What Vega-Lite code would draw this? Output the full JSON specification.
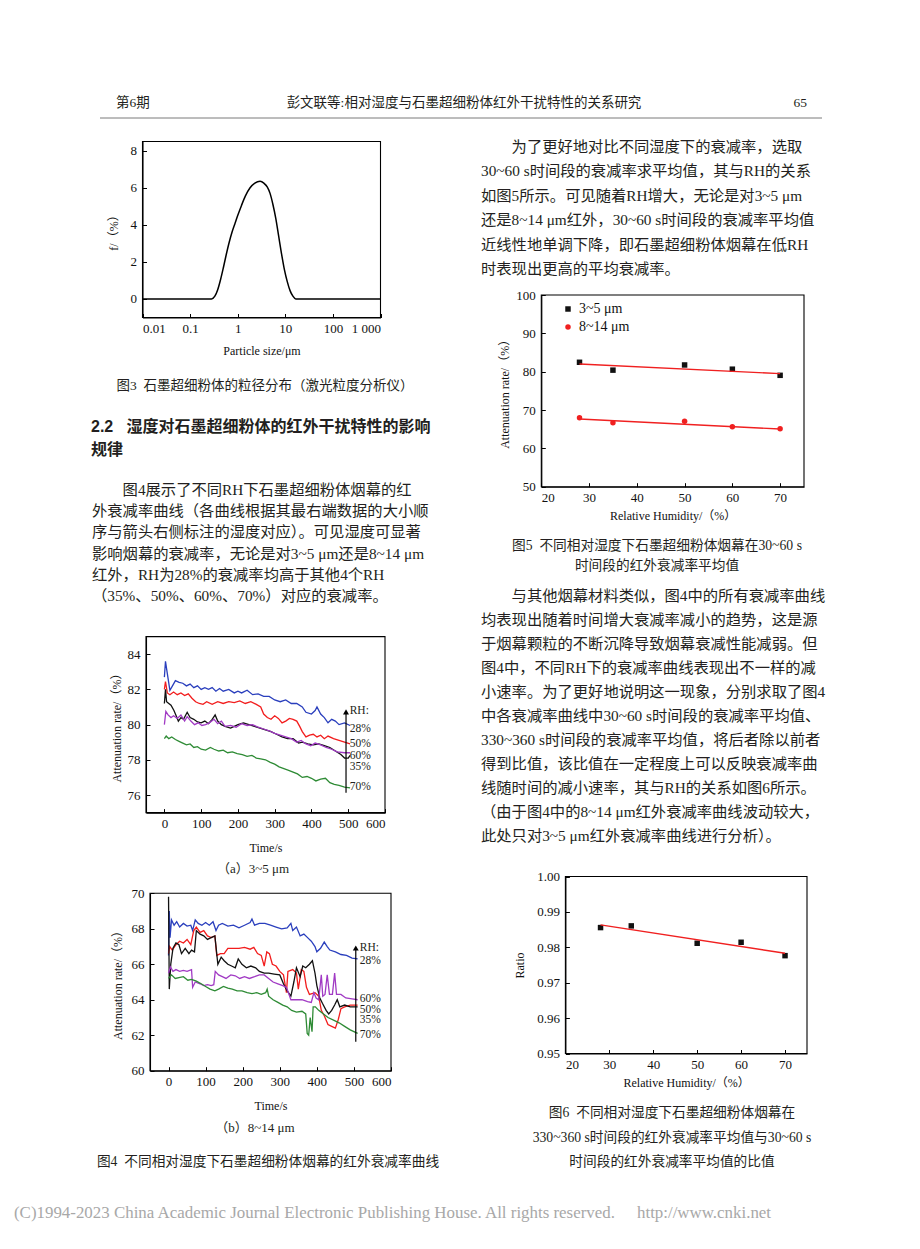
{
"$schema": "https://vega.github.io/schema/vega-lite/v6.json",
"width": 920, "height": 1249, "padding": 0, "autosize": {"type": "none"},
"background": "white",
"config": {
  "view": {"stroke": null},
  "axis": {"grid": false, "domainColor": "#000", "domainWidth": 1.1, "tickColor": "#000", "tickSize": -4, "labelPadding": 6, "labelColor": "#111", "titleColor": "#111", "labelFont": "Liberation Serif", "titleFont": "Liberation Serif, Noto Sans CJK SC", "labelFontSize": 13, "titleFontSize": 12, "titleFontWeight": "normal", "labelOverlap": false},
  "text": {"font": "Liberation Serif, Noto Sans CJK SC", "color": "#231f20"}
},
"resolve": {"scale": {"x": "independent", "y": "independent", "color": "independent", "shape": "independent"}, "axis": {"x": "independent", "y": "independent"}, "legend": {"color": "independent", "shape": "independent"}},
"datasets": {
  "fig3": [
    {"size":0.01,"f":0},{"size":0.282,"f":0},{"size":0.331,"f":0.15},{"size":0.38,"f":0.5},{"size":0.437,"f":1.05},{"size":0.501,"f":1.7},{"size":0.575,"f":2.4},{"size":0.661,"f":3.05},{"size":0.759,"f":3.6},{"size":0.871,"f":4.05},{"size":1.0,"f":4.5},{"size":1.202,"f":5.05},{"size":1.445,"f":5.55},{"size":1.82,"f":6.0},{"size":2.291,"f":6.25},{"size":2.951,"f":6.35},{"size":3.548,"f":6.25},{"size":4.169,"f":6.05},{"size":4.786,"f":5.7},{"size":5.495,"f":5.1},{"size":6.31,"f":4.35},{"size":7.244,"f":3.4},{"size":8.318,"f":2.45},{"size":9.55,"f":1.6},{"size":10.96,"f":0.95},{"size":12.59,"f":0.45},{"size":14.45,"f":0.15},{"size":16.6,"f":0},{"size":1000,"f":0}
  ],
  "fig4a": [
    {"t":0,"v":82.7,"rh":"28%"},{"t":3,"v":83.6,"rh":"28%"},{"t":8,"v":82.9,"rh":"28%"},{"t":15,"v":81.95,"rh":"28%"},{"t":22,"v":82.2,"rh":"28%"},{"t":30,"v":82.5,"rh":"28%"},{"t":40,"v":82.4,"rh":"28%"},{"t":50,"v":82.35,"rh":"28%"},{"t":60,"v":82.2,"rh":"28%"},{"t":70,"v":82.3,"rh":"28%"},{"t":80,"v":82.1,"rh":"28%"},{"t":90,"v":82.2,"rh":"28%"},{"t":100,"v":82.0,"rh":"28%"},{"t":110,"v":82.1,"rh":"28%"},{"t":120,"v":82.0,"rh":"28%"},{"t":130,"v":82.1,"rh":"28%"},{"t":140,"v":81.9,"rh":"28%"},{"t":150,"v":82.05,"rh":"28%"},{"t":160,"v":81.9,"rh":"28%"},{"t":175,"v":82.0,"rh":"28%"},{"t":190,"v":81.8,"rh":"28%"},{"t":200,"v":81.9,"rh":"28%"},{"t":210,"v":81.8,"rh":"28%"},{"t":225,"v":81.95,"rh":"28%"},{"t":240,"v":81.7,"rh":"28%"},{"t":255,"v":81.75,"rh":"28%"},{"t":270,"v":81.6,"rh":"28%"},{"t":285,"v":81.6,"rh":"28%"},{"t":300,"v":81.4,"rh":"28%"},{"t":315,"v":81.3,"rh":"28%"},{"t":330,"v":81.4,"rh":"28%"},{"t":345,"v":81.2,"rh":"28%"},{"t":360,"v":81.2,"rh":"28%"},{"t":375,"v":81.0,"rh":"28%"},{"t":385,"v":80.7,"rh":"28%"},{"t":400,"v":80.6,"rh":"28%"},{"t":410,"v":80.8,"rh":"28%"},{"t":415,"v":81.0,"rh":"28%"},{"t":425,"v":80.6,"rh":"28%"},{"t":435,"v":80.4,"rh":"28%"},{"t":445,"v":80.1,"rh":"28%"},{"t":455,"v":80.3,"rh":"28%"},{"t":465,"v":80.2,"rh":"28%"},{"t":475,"v":80.0,"rh":"28%"},{"t":490,"v":80.1,"rh":"28%"},{"t":505,"v":79.95,"rh":"28%"},
    {"t":0,"v":82.0,"rh":"50%"},{"t":3,"v":82.45,"rh":"50%"},{"t":8,"v":81.8,"rh":"50%"},{"t":15,"v":81.7,"rh":"50%"},{"t":25,"v":81.85,"rh":"50%"},{"t":35,"v":81.7,"rh":"50%"},{"t":45,"v":81.8,"rh":"50%"},{"t":55,"v":81.65,"rh":"50%"},{"t":65,"v":81.75,"rh":"50%"},{"t":75,"v":81.5,"rh":"50%"},{"t":85,"v":81.3,"rh":"50%"},{"t":95,"v":81.2,"rh":"50%"},{"t":105,"v":81.15,"rh":"50%"},{"t":115,"v":81.3,"rh":"50%"},{"t":130,"v":81.15,"rh":"50%"},{"t":145,"v":81.3,"rh":"50%"},{"t":160,"v":81.2,"rh":"50%"},{"t":175,"v":81.3,"rh":"50%"},{"t":190,"v":81.25,"rh":"50%"},{"t":205,"v":81.35,"rh":"50%"},{"t":220,"v":81.2,"rh":"50%"},{"t":235,"v":81.3,"rh":"50%"},{"t":250,"v":81.15,"rh":"50%"},{"t":262,"v":81.0,"rh":"50%"},{"t":270,"v":80.6,"rh":"50%"},{"t":280,"v":80.4,"rh":"50%"},{"t":290,"v":80.3,"rh":"50%"},{"t":300,"v":80.5,"rh":"50%"},{"t":310,"v":80.35,"rh":"50%"},{"t":320,"v":80.1,"rh":"50%"},{"t":330,"v":80.2,"rh":"50%"},{"t":340,"v":80.35,"rh":"50%"},{"t":350,"v":80.3,"rh":"50%"},{"t":360,"v":80.2,"rh":"50%"},{"t":368,"v":79.9,"rh":"50%"},{"t":375,"v":79.6,"rh":"50%"},{"t":385,"v":79.3,"rh":"50%"},{"t":395,"v":79.4,"rh":"50%"},{"t":405,"v":79.45,"rh":"50%"},{"t":415,"v":79.3,"rh":"50%"},{"t":425,"v":79.4,"rh":"50%"},{"t":435,"v":79.2,"rh":"50%"},{"t":445,"v":79.35,"rh":"50%"},{"t":460,"v":79.2,"rh":"50%"},{"t":475,"v":79.1,"rh":"50%"},{"t":490,"v":79.0,"rh":"50%"},{"t":505,"v":78.9,"rh":"50%"},
    {"t":0,"v":81.2,"rh":"35%"},{"t":3,"v":82.0,"rh":"35%"},{"t":6,"v":81.3,"rh":"35%"},{"t":12,"v":81.2,"rh":"35%"},{"t":18,"v":81.1,"rh":"35%"},{"t":26,"v":80.8,"rh":"35%"},{"t":32,"v":80.5,"rh":"35%"},{"t":38,"v":80.2,"rh":"35%"},{"t":45,"v":80.4,"rh":"35%"},{"t":52,"v":80.3,"rh":"35%"},{"t":62,"v":80.7,"rh":"35%"},{"t":70,"v":80.4,"rh":"35%"},{"t":80,"v":80.3,"rh":"35%"},{"t":90,"v":80.15,"rh":"35%"},{"t":100,"v":80.1,"rh":"35%"},{"t":110,"v":80.2,"rh":"35%"},{"t":120,"v":80.05,"rh":"35%"},{"t":130,"v":80.3,"rh":"35%"},{"t":138,"v":80.55,"rh":"35%"},{"t":145,"v":80.2,"rh":"35%"},{"t":155,"v":80.0,"rh":"35%"},{"t":165,"v":79.9,"rh":"35%"},{"t":180,"v":79.8,"rh":"35%"},{"t":190,"v":79.9,"rh":"35%"},{"t":200,"v":80.0,"rh":"35%"},{"t":215,"v":80.1,"rh":"35%"},{"t":230,"v":80.0,"rh":"35%"},{"t":245,"v":79.9,"rh":"35%"},{"t":260,"v":79.8,"rh":"35%"},{"t":275,"v":79.7,"rh":"35%"},{"t":290,"v":79.6,"rh":"35%"},{"t":305,"v":79.45,"rh":"35%"},{"t":320,"v":79.3,"rh":"35%"},{"t":335,"v":79.2,"rh":"35%"},{"t":350,"v":79.2,"rh":"35%"},{"t":365,"v":78.95,"rh":"35%"},{"t":375,"v":79.0,"rh":"35%"},{"t":390,"v":78.9,"rh":"35%"},{"t":405,"v":78.85,"rh":"35%"},{"t":420,"v":78.9,"rh":"35%"},{"t":435,"v":78.8,"rh":"35%"},{"t":450,"v":78.7,"rh":"35%"},{"t":465,"v":78.5,"rh":"35%"},{"t":480,"v":78.3,"rh":"35%"},{"t":490,"v":78.1,"rh":"35%"},{"t":500,"v":78.1,"rh":"35%"},{"t":505,"v":78.25,"rh":"35%"},
    {"t":0,"v":80.0,"rh":"60%"},{"t":4,"v":80.75,"rh":"60%"},{"t":10,"v":80.55,"rh":"60%"},{"t":18,"v":80.4,"rh":"60%"},{"t":25,"v":80.5,"rh":"60%"},{"t":35,"v":80.35,"rh":"60%"},{"t":45,"v":80.55,"rh":"60%"},{"t":55,"v":80.2,"rh":"60%"},{"t":62,"v":80.45,"rh":"60%"},{"t":72,"v":80.2,"rh":"60%"},{"t":82,"v":80.0,"rh":"60%"},{"t":92,"v":80.1,"rh":"60%"},{"t":102,"v":79.95,"rh":"60%"},{"t":112,"v":80.0,"rh":"60%"},{"t":122,"v":80.1,"rh":"60%"},{"t":135,"v":80.3,"rh":"60%"},{"t":145,"v":80.05,"rh":"60%"},{"t":155,"v":80.2,"rh":"60%"},{"t":165,"v":79.9,"rh":"60%"},{"t":180,"v":79.95,"rh":"60%"},{"t":195,"v":79.85,"rh":"60%"},{"t":210,"v":80.05,"rh":"60%"},{"t":225,"v":79.95,"rh":"60%"},{"t":240,"v":80.0,"rh":"60%"},{"t":255,"v":79.85,"rh":"60%"},{"t":270,"v":79.75,"rh":"60%"},{"t":285,"v":79.65,"rh":"60%"},{"t":300,"v":79.5,"rh":"60%"},{"t":315,"v":79.4,"rh":"60%"},{"t":330,"v":79.3,"rh":"60%"},{"t":345,"v":79.2,"rh":"60%"},{"t":360,"v":79.0,"rh":"60%"},{"t":372,"v":79.1,"rh":"60%"},{"t":385,"v":78.9,"rh":"60%"},{"t":398,"v":78.8,"rh":"60%"},{"t":410,"v":78.95,"rh":"60%"},{"t":425,"v":78.85,"rh":"60%"},{"t":440,"v":78.7,"rh":"60%"},{"t":455,"v":78.6,"rh":"60%"},{"t":470,"v":78.45,"rh":"60%"},{"t":490,"v":78.4,"rh":"60%"},{"t":505,"v":78.4,"rh":"60%"},
    {"t":0,"v":79.2,"rh":"70%"},{"t":5,"v":79.35,"rh":"70%"},{"t":12,"v":79.2,"rh":"70%"},{"t":20,"v":79.3,"rh":"70%"},{"t":30,"v":79.15,"rh":"70%"},{"t":40,"v":79.05,"rh":"70%"},{"t":50,"v":78.95,"rh":"70%"},{"t":60,"v":78.85,"rh":"70%"},{"t":70,"v":78.9,"rh":"70%"},{"t":80,"v":78.7,"rh":"70%"},{"t":90,"v":78.75,"rh":"70%"},{"t":100,"v":78.6,"rh":"70%"},{"t":112,"v":78.55,"rh":"70%"},{"t":125,"v":78.7,"rh":"70%"},{"t":135,"v":78.6,"rh":"70%"},{"t":148,"v":78.5,"rh":"70%"},{"t":160,"v":78.55,"rh":"70%"},{"t":172,"v":78.4,"rh":"70%"},{"t":185,"v":78.45,"rh":"70%"},{"t":198,"v":78.35,"rh":"70%"},{"t":212,"v":78.3,"rh":"70%"},{"t":225,"v":78.2,"rh":"70%"},{"t":238,"v":78.25,"rh":"70%"},{"t":250,"v":78.1,"rh":"70%"},{"t":262,"v":78.05,"rh":"70%"},{"t":275,"v":78.0,"rh":"70%"},{"t":288,"v":77.85,"rh":"70%"},{"t":300,"v":77.75,"rh":"70%"},{"t":312,"v":77.6,"rh":"70%"},{"t":325,"v":77.5,"rh":"70%"},{"t":338,"v":77.4,"rh":"70%"},{"t":350,"v":77.3,"rh":"70%"},{"t":362,"v":77.2,"rh":"70%"},{"t":375,"v":77.0,"rh":"70%"},{"t":388,"v":77.05,"rh":"70%"},{"t":400,"v":76.95,"rh":"70%"},{"t":412,"v":76.8,"rh":"70%"},{"t":425,"v":76.9,"rh":"70%"},{"t":438,"v":76.95,"rh":"70%"},{"t":450,"v":76.7,"rh":"70%"},{"t":462,"v":76.6,"rh":"70%"},{"t":475,"v":76.55,"rh":"70%"},{"t":490,"v":76.45,"rh":"70%"},{"t":505,"v":76.4,"rh":"70%"}
  ],
  "fig4b": [
    {"t":0,"v":66.5,"rh":"28%"},{"t":2,"v":69.0,"rh":"28%"},{"t":4,"v":67.5,"rh":"28%"},{"t":8,"v":68.5,"rh":"28%"},{"t":15,"v":68.2,"rh":"28%"},{"t":22,"v":68.4,"rh":"28%"},{"t":30,"v":68.1,"rh":"28%"},{"t":40,"v":68.3,"rh":"28%"},{"t":50,"v":68.15,"rh":"28%"},{"t":60,"v":68.2,"rh":"28%"},{"t":65,"v":67.9,"rh":"28%"},{"t":72,"v":68.5,"rh":"28%"},{"t":80,"v":68.3,"rh":"28%"},{"t":90,"v":68.2,"rh":"28%"},{"t":100,"v":68.35,"rh":"28%"},{"t":110,"v":68.2,"rh":"28%"},{"t":120,"v":68.4,"rh":"28%"},{"t":128,"v":67.9,"rh":"28%"},{"t":135,"v":68.2,"rh":"28%"},{"t":145,"v":68.3,"rh":"28%"},{"t":160,"v":68.15,"rh":"28%"},{"t":175,"v":68.2,"rh":"28%"},{"t":190,"v":68.05,"rh":"28%"},{"t":205,"v":68.2,"rh":"28%"},{"t":220,"v":68.35,"rh":"28%"},{"t":225,"v":68.55,"rh":"28%"},{"t":232,"v":68.2,"rh":"28%"},{"t":245,"v":68.3,"rh":"28%"},{"t":260,"v":68.3,"rh":"28%"},{"t":275,"v":68.2,"rh":"28%"},{"t":290,"v":68.1,"rh":"28%"},{"t":305,"v":68.0,"rh":"28%"},{"t":320,"v":68.05,"rh":"28%"},{"t":330,"v":68.3,"rh":"28%"},{"t":335,"v":67.9,"rh":"28%"},{"t":345,"v":68.1,"rh":"28%"},{"t":355,"v":67.6,"rh":"28%"},{"t":365,"v":67.7,"rh":"28%"},{"t":375,"v":67.5,"rh":"28%"},{"t":385,"v":67.3,"rh":"28%"},{"t":395,"v":67.0,"rh":"28%"},{"t":400,"v":66.7,"rh":"28%"},{"t":410,"v":66.9,"rh":"28%"},{"t":420,"v":67.25,"rh":"28%"},{"t":428,"v":67.0,"rh":"28%"},{"t":435,"v":66.8,"rh":"28%"},{"t":450,"v":66.7,"rh":"28%"},{"t":465,"v":66.55,"rh":"28%"},{"t":480,"v":66.5,"rh":"28%"},{"t":495,"v":66.35,"rh":"28%"},{"t":510,"v":66.3,"rh":"28%"},
    {"t":0,"v":66.6,"rh":"50%"},{"t":3,"v":67.0,"rh":"50%"},{"t":10,"v":66.8,"rh":"50%"},{"t":20,"v":67.1,"rh":"50%"},{"t":30,"v":67.3,"rh":"50%"},{"t":40,"v":67.2,"rh":"50%"},{"t":50,"v":67.4,"rh":"50%"},{"t":60,"v":67.1,"rh":"50%"},{"t":68,"v":67.9,"rh":"50%"},{"t":75,"v":68.1,"rh":"50%"},{"t":85,"v":67.8,"rh":"50%"},{"t":95,"v":67.9,"rh":"50%"},{"t":105,"v":67.6,"rh":"50%"},{"t":115,"v":67.5,"rh":"50%"},{"t":125,"v":67.6,"rh":"50%"},{"t":130,"v":66.5,"rh":"50%"},{"t":140,"v":66.6,"rh":"50%"},{"t":150,"v":66.6,"rh":"50%"},{"t":160,"v":66.9,"rh":"50%"},{"t":175,"v":66.9,"rh":"50%"},{"t":190,"v":66.9,"rh":"50%"},{"t":205,"v":66.95,"rh":"50%"},{"t":220,"v":66.85,"rh":"50%"},{"t":230,"v":66.95,"rh":"50%"},{"t":240,"v":66.6,"rh":"50%"},{"t":250,"v":66.5,"rh":"50%"},{"t":258,"v":65.9,"rh":"50%"},{"t":265,"v":66.7,"rh":"50%"},{"t":272,"v":66.6,"rh":"50%"},{"t":280,"v":66.0,"rh":"50%"},{"t":290,"v":65.9,"rh":"50%"},{"t":300,"v":65.6,"rh":"50%"},{"t":310,"v":65.4,"rh":"50%"},{"t":318,"v":64.4,"rh":"50%"},{"t":322,"v":65.6,"rh":"50%"},{"t":335,"v":65.7,"rh":"50%"},{"t":345,"v":65.5,"rh":"50%"},{"t":350,"v":64.6,"rh":"50%"},{"t":358,"v":65.7,"rh":"50%"},{"t":365,"v":65.6,"rh":"50%"},{"t":372,"v":64.7,"rh":"50%"},{"t":380,"v":64.3,"rh":"50%"},{"t":395,"v":64.4,"rh":"50%"},{"t":405,"v":64.2,"rh":"50%"},{"t":412,"v":63.4,"rh":"50%"},{"t":420,"v":63.1,"rh":"50%"},{"t":430,"v":62.6,"rh":"50%"},{"t":440,"v":62.5,"rh":"50%"},{"t":450,"v":62.4,"rh":"50%"},{"t":458,"v":62.9,"rh":"50%"},{"t":465,"v":63.5,"rh":"50%"},{"t":475,"v":63.6,"rh":"50%"},{"t":490,"v":63.7,"rh":"50%"},{"t":510,"v":63.7,"rh":"50%"},
    {"t":0,"v":69.8,"rh":"35%"},{"t":2,"v":64.6,"rh":"35%"},{"t":6,"v":66.0,"rh":"35%"},{"t":12,"v":66.9,"rh":"35%"},{"t":20,"v":67.2,"rh":"35%"},{"t":28,"v":67.1,"rh":"35%"},{"t":35,"v":66.6,"rh":"35%"},{"t":45,"v":66.9,"rh":"35%"},{"t":55,"v":66.6,"rh":"35%"},{"t":62,"v":66.8,"rh":"35%"},{"t":70,"v":66.7,"rh":"35%"},{"t":75,"v":67.9,"rh":"35%"},{"t":85,"v":67.7,"rh":"35%"},{"t":95,"v":67.6,"rh":"35%"},{"t":105,"v":67.4,"rh":"35%"},{"t":115,"v":67.5,"rh":"35%"},{"t":125,"v":67.6,"rh":"35%"},{"t":133,"v":66.0,"rh":"35%"},{"t":142,"v":66.4,"rh":"35%"},{"t":150,"v":66.2,"rh":"35%"},{"t":160,"v":66.0,"rh":"35%"},{"t":170,"v":65.9,"rh":"35%"},{"t":180,"v":65.8,"rh":"35%"},{"t":188,"v":66.3,"rh":"35%"},{"t":198,"v":66.0,"rh":"35%"},{"t":210,"v":65.8,"rh":"35%"},{"t":222,"v":65.9,"rh":"35%"},{"t":235,"v":65.8,"rh":"35%"},{"t":245,"v":65.6,"rh":"35%"},{"t":258,"v":65.5,"rh":"35%"},{"t":270,"v":65.5,"rh":"35%"},{"t":285,"v":65.45,"rh":"35%"},{"t":300,"v":65.4,"rh":"35%"},{"t":310,"v":64.9,"rh":"35%"},{"t":320,"v":64.5,"rh":"35%"},{"t":330,"v":64.2,"rh":"35%"},{"t":338,"v":65.0,"rh":"35%"},{"t":345,"v":65.8,"rh":"35%"},{"t":355,"v":65.3,"rh":"35%"},{"t":362,"v":65.9,"rh":"35%"},{"t":370,"v":65.8,"rh":"35%"},{"t":380,"v":66.0,"rh":"35%"},{"t":388,"v":66.2,"rh":"35%"},{"t":395,"v":65.5,"rh":"35%"},{"t":400,"v":64.8,"rh":"35%"},{"t":408,"v":64.1,"rh":"35%"},{"t":415,"v":63.8,"rh":"35%"},{"t":425,"v":63.4,"rh":"35%"},{"t":432,"v":63.2,"rh":"35%"},{"t":440,"v":63.4,"rh":"35%"},{"t":448,"v":63.7,"rh":"35%"},{"t":455,"v":64.0,"rh":"35%"},{"t":462,"v":63.6,"rh":"35%"},{"t":475,"v":63.7,"rh":"35%"},{"t":490,"v":63.6,"rh":"35%"},{"t":510,"v":63.6,"rh":"35%"},
    {"t":0,"v":65.5,"rh":"60%"},{"t":5,"v":65.85,"rh":"60%"},{"t":12,"v":65.6,"rh":"60%"},{"t":20,"v":65.7,"rh":"60%"},{"t":30,"v":65.6,"rh":"60%"},{"t":40,"v":65.65,"rh":"60%"},{"t":50,"v":65.6,"rh":"60%"},{"t":62,"v":65.7,"rh":"60%"},{"t":65,"v":64.7,"rh":"60%"},{"t":72,"v":65.0,"rh":"60%"},{"t":85,"v":64.9,"rh":"60%"},{"t":95,"v":64.8,"rh":"60%"},{"t":105,"v":64.85,"rh":"60%"},{"t":115,"v":64.8,"rh":"60%"},{"t":122,"v":64.85,"rh":"60%"},{"t":126,"v":65.6,"rh":"60%"},{"t":135,"v":65.4,"rh":"60%"},{"t":145,"v":65.3,"rh":"60%"},{"t":155,"v":65.2,"rh":"60%"},{"t":168,"v":65.4,"rh":"60%"},{"t":180,"v":65.35,"rh":"60%"},{"t":192,"v":65.2,"rh":"60%"},{"t":205,"v":65.3,"rh":"60%"},{"t":218,"v":65.2,"rh":"60%"},{"t":232,"v":65.3,"rh":"60%"},{"t":245,"v":65.4,"rh":"60%"},{"t":258,"v":65.4,"rh":"60%"},{"t":270,"v":65.2,"rh":"60%"},{"t":282,"v":65.0,"rh":"60%"},{"t":295,"v":64.9,"rh":"60%"},{"t":308,"v":64.8,"rh":"60%"},{"t":318,"v":64.7,"rh":"60%"},{"t":325,"v":64.3,"rh":"60%"},{"t":330,"v":64.0,"rh":"60%"},{"t":345,"v":64.0,"rh":"60%"},{"t":360,"v":64.0,"rh":"60%"},{"t":375,"v":63.9,"rh":"60%"},{"t":385,"v":63.85,"rh":"60%"},{"t":392,"v":64.4,"rh":"60%"},{"t":398,"v":64.1,"rh":"60%"},{"t":405,"v":64.0,"rh":"60%"},{"t":412,"v":65.4,"rh":"60%"},{"t":416,"v":64.2,"rh":"60%"},{"t":422,"v":64.3,"rh":"60%"},{"t":428,"v":65.4,"rh":"60%"},{"t":434,"v":64.3,"rh":"60%"},{"t":442,"v":64.3,"rh":"60%"},{"t":448,"v":65.5,"rh":"60%"},{"t":453,"v":64.3,"rh":"60%"},{"t":465,"v":64.3,"rh":"60%"},{"t":478,"v":64.1,"rh":"60%"},{"t":495,"v":64.05,"rh":"60%"},{"t":510,"v":64.0,"rh":"60%"},
    {"t":0,"v":65.2,"rh":"70%"},{"t":8,"v":65.4,"rh":"70%"},{"t":18,"v":65.2,"rh":"70%"},{"t":28,"v":65.25,"rh":"70%"},{"t":40,"v":65.3,"rh":"70%"},{"t":52,"v":65.1,"rh":"70%"},{"t":62,"v":65.15,"rh":"70%"},{"t":75,"v":65.05,"rh":"70%"},{"t":88,"v":64.9,"rh":"70%"},{"t":100,"v":64.75,"rh":"70%"},{"t":112,"v":64.6,"rh":"70%"},{"t":125,"v":64.5,"rh":"70%"},{"t":135,"v":64.6,"rh":"70%"},{"t":148,"v":64.75,"rh":"70%"},{"t":160,"v":64.65,"rh":"70%"},{"t":172,"v":64.6,"rh":"70%"},{"t":185,"v":64.5,"rh":"70%"},{"t":198,"v":64.5,"rh":"70%"},{"t":212,"v":64.4,"rh":"70%"},{"t":225,"v":64.35,"rh":"70%"},{"t":238,"v":64.4,"rh":"70%"},{"t":250,"v":64.3,"rh":"70%"},{"t":262,"v":64.4,"rh":"70%"},{"t":266,"v":64.6,"rh":"70%"},{"t":270,"v":64.2,"rh":"70%"},{"t":282,"v":64.0,"rh":"70%"},{"t":295,"v":63.85,"rh":"70%"},{"t":308,"v":63.7,"rh":"70%"},{"t":320,"v":63.6,"rh":"70%"},{"t":332,"v":63.4,"rh":"70%"},{"t":345,"v":63.3,"rh":"70%"},{"t":360,"v":63.35,"rh":"70%"},{"t":370,"v":63.2,"rh":"70%"},{"t":374,"v":62.1,"rh":"70%"},{"t":378,"v":62.0,"rh":"70%"},{"t":382,"v":63.0,"rh":"70%"},{"t":387,"v":62.2,"rh":"70%"},{"t":390,"v":63.6,"rh":"70%"},{"t":396,"v":63.6,"rh":"70%"},{"t":405,"v":63.4,"rh":"70%"},{"t":418,"v":63.2,"rh":"70%"},{"t":430,"v":63.0,"rh":"70%"},{"t":445,"v":62.85,"rh":"70%"},{"t":460,"v":62.7,"rh":"70%"},{"t":475,"v":62.5,"rh":"70%"},{"t":490,"v":62.3,"rh":"70%"},{"t":510,"v":62.1,"rh":"70%"}
  ],
  "fig4aLabels": [{"t":504,"v":80.78,"label":"RH:"},{"t":504,"v":79.76,"label":"28%"},{"t":504,"v":78.9,"label":"50%"},{"t":504,"v":78.22,"label":"60%"},{"t":504,"v":77.6,"label":"35%"},{"t":504,"v":76.46,"label":"70%"}],
  "fig4bLabels": [{"t":516,"v":66.9,"label":"RH:"},{"t":516,"v":66.16,"label":"28%"},{"t":516,"v":64.06,"label":"60%"},{"t":516,"v":63.44,"label":"50%"},{"t":516,"v":62.87,"label":"35%"},{"t":516,"v":62.02,"label":"70%"}],
  "fig4aArrow": [{"t":494,"v":76.13,"v2":80.6,"top":80.72}],
  "fig4bArrow": [{"t":505,"v":61.63,"v2":66.8,"top":66.92}],
  "fig5": [
    {"rh":28,"rate":82.45,"band":"3~5 μm"},{"rh":35,"rate":80.4,"band":"3~5 μm"},{"rh":50,"rate":81.75,"band":"3~5 μm"},{"rh":60,"rate":80.65,"band":"3~5 μm"},{"rh":70,"rate":79.05,"band":"3~5 μm"},
    {"rh":28,"rate":68.0,"band":"8~14 μm"},{"rh":35,"rate":66.7,"band":"8~14 μm"},{"rh":50,"rate":67.05,"band":"8~14 μm"},{"rh":60,"rate":65.65,"band":"8~14 μm"},{"rh":70,"rate":65.1,"band":"8~14 μm"}
  ],
  "fig5fit": [{"rh":28,"rate":82.0,"band":"3~5 μm"},{"rh":70,"rate":79.5,"band":"3~5 μm"},{"rh":28,"rate":67.65,"band":"8~14 μm"},{"rh":70,"rate":65.05,"band":"8~14 μm"}],
  "fig6": [{"rh":28,"ratio":0.98557},{"rh":35,"ratio":0.98605},{"rh":50,"ratio":0.98114},{"rh":60,"ratio":0.98142},{"rh":70,"ratio":0.97764}],
  "fig6fit": [{"rh":28,"ratio":0.98633},{"rh":70,"ratio":0.97831}],
  "tHeading": [{"line":0,"text":"2.2\u00a0\u00a0\u00a0湿度对石墨超细粉体的红外干扰特性的影响"},{"line":1,"text":"规律"}],
  "tLeft": [
    {"line":0,"indent":2,"text":"图4展示了不同RH下石墨超细粉体烟幕的红"},
    {"line":1,"indent":0,"text":"外衰减率曲线（各曲线根据其最右端数据的大小顺"},
    {"line":2,"indent":0,"text":"序与箭头右侧标注的湿度对应）。可见湿度可显著"},
    {"line":3,"indent":0,"text":"影响烟幕的衰减率，无论是对3~5 μm还是8~14 μm"},
    {"line":4,"indent":0,"text":"红外，RH为28%的衰减率均高于其他4个RH"},
    {"line":5,"indent":0,"text":"（35%、50%、60%、70%）对应的衰减率。"}
  ],
  "tRight1": [
    {"line":0,"indent":2,"text":"为了更好地对比不同湿度下的衰减率，选取"},
    {"line":1,"indent":0,"text":"30~60 s时间段的衰减率求平均值，其与RH的关系"},
    {"line":2,"indent":0,"text":"如图5所示。可见随着RH增大，无论是对3~5 μm"},
    {"line":3,"indent":0,"text":"还是8~14 μm红外，30~60 s时间段的衰减率平均值"},
    {"line":4,"indent":0,"text":"近线性地单调下降，即石墨超细粉体烟幕在低RH"},
    {"line":5,"indent":0,"text":"时表现出更高的平均衰减率。"}
  ],
  "tRight2": [
    {"line":0,"indent":2,"text":"与其他烟幕材料类似，图4中的所有衰减率曲线"},
    {"line":1,"indent":0,"text":"均表现出随着时间增大衰减率减小的趋势，这是源"},
    {"line":2,"indent":0,"text":"于烟幕颗粒的不断沉降导致烟幕衰减性能减弱。但"},
    {"line":3,"indent":0,"text":"图4中，不同RH下的衰减率曲线表现出不一样的减"},
    {"line":4,"indent":0,"text":"小速率。为了更好地说明这一现象，分别求取了图4"},
    {"line":5,"indent":0,"text":"中各衰减率曲线中30~60 s时间段的衰减率平均值、"},
    {"line":6,"indent":0,"text":"330~360 s时间段的衰减率平均值，将后者除以前者"},
    {"line":7,"indent":0,"text":"得到比值，该比值在一定程度上可以反映衰减率曲"},
    {"line":8,"indent":0,"text":"线随时间的减小速率，其与RH的关系如图6所示。"},
    {"line":9,"indent":0,"text":"（由于图4中的8~14 μm红外衰减率曲线波动较大，"},
    {"line":10,"indent":0,"text":"此处只对3~5 μm红外衰减率曲线进行分析）。"}
  ],
  "tCap5": [{"line":0,"text":"图5\u00a0\u00a0不同相对湿度下石墨超细粉体烟幕在30~60 s"},{"line":1,"text":"时间段的红外衰减率平均值"}],
  "tCap6": [{"line":0,"text":"图6\u00a0\u00a0不同相对湿度下石墨超细粉体烟幕在"},{"line":1,"text":"330~360 s时间段的红外衰减率平均值与30~60 s"},{"line":2,"text":"时间段的红外衰减率平均值的比值"}],
  "tFooter": [{"pos":0,"text":"(C)1994-2023 China Academic Journal Electronic Publishing House. All rights reserved."},{"pos":1,"text":"http://www.cnki.net"}]
},
"layer": [
  {
    "data": {"values": [{"a":0,"b":1}]},
    "mark": {"type":"rule","color":"#7a7a7a","strokeWidth":1},
    "encoding": {
      "x": {"field":"a","type":"quantitative","scale":{"domain":[0,1],"range":[100,822],"nice":false,"zero":false},"axis":null},
      "x2": {"field":"b"},
      "y": {"datum":0,"type":"quantitative","scale":{"domain":[0,1],"range":[118,119],"nice":false,"zero":false},"axis":null}
    }
  },
  {
    "data": {"values": [{"text":"第6期"}]},
    "mark": {"type":"text","align":"left","baseline":"middle","fontSize":13.5},
    "encoding": {
      "x": {"datum":0,"type":"quantitative","scale":{"domain":[0,1],"range":[116,117],"nice":false,"zero":false},"axis":null},
      "y": {"datum":0,"type":"quantitative","scale":{"domain":[0,1],"range":[103,104],"nice":false,"zero":false},"axis":null},
      "text": {"field":"text"}
    }
  },
  {
    "data": {"values": [{"text":"彭文联等:相对湿度与石墨超细粉体红外干扰特性的关系研究"}]},
    "mark": {"type":"text","align":"center","baseline":"middle","fontSize":13.5},
    "encoding": {
      "x": {"datum":0,"type":"quantitative","scale":{"domain":[0,1],"range":[464,465],"nice":false,"zero":false},"axis":null},
      "y": {"datum":0,"type":"quantitative","scale":{"domain":[0,1],"range":[103,104],"nice":false,"zero":false},"axis":null},
      "text": {"field":"text"}
    }
  },
  {
    "data": {"values": [{"text":"65"}]},
    "mark": {"type":"text","align":"right","baseline":"middle","fontSize":13.5},
    "encoding": {
      "x": {"datum":0,"type":"quantitative","scale":{"domain":[0,1],"range":[807,808],"nice":false,"zero":false},"axis":null},
      "y": {"datum":0,"type":"quantitative","scale":{"domain":[0,1],"range":[103,104],"nice":false,"zero":false},"axis":null},
      "text": {"field":"text"}
    }
  },
  {
    "data": {"name":"fig3"},
    "mark": {"type":"line","color":"#000","strokeWidth":1.5,"interpolate":"monotone"},
    "encoding": {
      "x": {"field":"size","type":"quantitative","scale":{"type":"log","domain":[0.01,1000],"range":[142.5,380.5],"nice":false},
            "axis":{"orient":"bottom","offset":-931.5,"labelPadding":9,"values":[0.01,0.1,1,10,100,1000],"labelExpr":"datum.value == 1000 ? '1 000' : toString(datum.value)","labelFlush":true,"title":"Particle size/μm","titlePadding":10}},
      "y": {"field":"f","type":"quantitative","scale":{"domain":[-1,8.5],"range":[317.5,141.5],"nice":false,"zero":false},
            "axis":{"orient":"left","offset":-142.5,"labelPadding":10,"values":[0,2,4,6,8],"title":"f/（%）","titlePadding":10}}
    }
  },
  {
    "data": {"values":[{"k":1}]},
    "mark": {"type":"rect","fill":null,"stroke":"#000","strokeWidth":1.1},
    "encoding": {
      "x": {"datum":0.01,"type":"quantitative","scale":{"type":"log","domain":[0.01,1000],"range":[142.5,380.5],"nice":false},"axis":null},
      "x2": {"datum":1000},
      "y": {"datum":-1,"type":"quantitative","scale":{"domain":[-1,8.5],"range":[317.5,141.5],"nice":false,"zero":false},"axis":null},
      "y2": {"datum":8.5}
    }
  },
  {
    "data": {"values": [{"text":"图3\u00a0\u00a0石墨超细粉体的粒径分布（激光粒度分析仪）"}]},
    "mark": {"type":"text","align":"center","baseline":"middle","fontSize":13.5},
    "encoding": {
      "x": {"datum":0,"type":"quantitative","scale":{"domain":[0,1],"range":[265,266],"nice":false,"zero":false},"axis":null},
      "y": {"datum":0,"type":"quantitative","scale":{"domain":[0,1],"range":[386,387],"nice":false,"zero":false},"axis":null},
      "text": {"field":"text"}
    }
  },
  {
    "data": {"name":"tHeading"},
    "mark": {"type":"text","align":"left","baseline":"middle","fontSize":16,"fontWeight":"bold","font":"Liberation Sans, Noto Sans CJK SC"},
    "encoding": {
      "x": {"datum":0,"type":"quantitative","scale":{"domain":[0,1],"range":[91,92],"nice":false,"zero":false},"axis":null},
      "y": {"field":"line","type":"quantitative","scale":{"domain":[0,1],"range":[427,450],"nice":false,"zero":false},"axis":null},
      "text": {"field":"text"}
    }
  },
  {
    "data": {"name":"tLeft"},
    "mark": {"type":"text","align":"left","baseline":"middle","fontSize":15.3},
    "encoding": {
      "x": {"field":"indent","type":"quantitative","scale":{"domain":[0,2],"range":[92,122.6],"nice":false,"zero":false},"axis":null},
      "y": {"field":"line","type":"quantitative","scale":{"domain":[0,5],"range":[490,596],"nice":false,"zero":false},"axis":null},
      "text": {"field":"text"}
    }
  },
  {
    "data": {"name":"fig4a"},
    "mark": {"type":"line","strokeWidth":1.3},
    "encoding": {
      "x": {"field":"t","type":"quantitative","scale":{"domain":[-50,600],"range":[146,385],"nice":false,"zero":false},
            "axis":{"orient":"bottom","offset":-436.4,"labelPadding":9,"values":[0,100,200,300,400,500,600],"title":"Time/s","titlePadding":12}},
      "y": {"field":"v","type":"quantitative","scale":{"domain":[75,85],"range":[812.6,636.6],"nice":false,"zero":false},
            "axis":{"orient":"left","offset":-146,"labelPadding":10,"values":[76,78,80,82,84],"title":"Attenuation rate/（%）","titlePadding":4}},
      "color": {"field":"rh","type":"nominal","scale":{"domain":["28%","50%","35%","60%","70%"],"range":["#2a3fbd","#f21d1d","#111111","#a13ac4","#2e8b35"]},"legend":null}
    }
  },
  {
    "data": {"values":[{"k":1}]},
    "mark": {"type":"rect","fill":null,"stroke":"#000","strokeWidth":1.1},
    "encoding": {
      "x": {"datum":-50,"type":"quantitative","scale":{"domain":[-50,600],"range":[146,385],"nice":false,"zero":false},"axis":null},
      "x2": {"datum":600},
      "y": {"datum":75,"type":"quantitative","scale":{"domain":[75,85],"range":[812.6,636.6],"nice":false,"zero":false},"axis":null},
      "y2": {"datum":85}
    }
  },
  {
    "data": {"name":"fig4aArrow"},
    "mark": {"type":"rule","color":"#000","strokeWidth":1.2},
    "encoding": {
      "x": {"field":"t","type":"quantitative","scale":{"domain":[-50,600],"range":[146,385],"nice":false,"zero":false},"axis":null},
      "y": {"field":"v","type":"quantitative","scale":{"domain":[75,85],"range":[812.6,636.6],"nice":false,"zero":false},"axis":null},
      "y2": {"field":"v2"}
    }
  },
  {
    "data": {"name":"fig4aArrow"},
    "mark": {"type":"point","shape":"triangle-up","filled":true,"color":"#000","size":35,"opacity":1},
    "encoding": {
      "x": {"field":"t","type":"quantitative","scale":{"domain":[-50,600],"range":[146,385],"nice":false,"zero":false},"axis":null},
      "y": {"field":"top","type":"quantitative","scale":{"domain":[75,85],"range":[812.6,636.6],"nice":false,"zero":false},"axis":null}
    }
  },
  {
    "data": {"name":"fig4aLabels"},
    "mark": {"type":"text","align":"left","baseline":"middle","fontSize":11.5,"font":"Liberation Serif"},
    "encoding": {
      "x": {"field":"t","type":"quantitative","scale":{"domain":[-50,600],"range":[146,385],"nice":false,"zero":false},"axis":null},
      "y": {"field":"v","type":"quantitative","scale":{"domain":[75,85],"range":[812.6,636.6],"nice":false,"zero":false},"axis":null},
      "text": {"field":"label"}
    }
  },
  {
    "data": {"values": [{"text":"（a）3~5 μm"}]},
    "mark": {"type":"text","align":"center","baseline":"middle","fontSize":13},
    "encoding": {
      "x": {"datum":0,"type":"quantitative","scale":{"domain":[0,1],"range":[253,254],"nice":false,"zero":false},"axis":null},
      "y": {"datum":0,"type":"quantitative","scale":{"domain":[0,1],"range":[869,870],"nice":false,"zero":false},"axis":null},
      "text": {"field":"text"}
    }
  },
  {
    "data": {"name":"fig4b"},
    "mark": {"type":"line","strokeWidth":1.3},
    "encoding": {
      "x": {"field":"t","type":"quantitative","scale":{"domain":[-50,600],"range":[150,391],"nice":false,"zero":false},
            "axis":{"orient":"bottom","offset":-178.3,"labelPadding":9,"values":[0,100,200,300,400,500,600],"title":"Time/s","titlePadding":12}},
      "y": {"field":"v","type":"quantitative","scale":{"domain":[60,70],"range":[1070.7,893.3],"nice":false,"zero":false},
            "axis":{"orient":"left","offset":-150,"labelPadding":10,"values":[60,62,64,66,68,70],"title":"Attenuation rate/（%）","titlePadding":7}},
      "color": {"field":"rh","type":"nominal","scale":{"domain":["28%","50%","35%","60%","70%"],"range":["#2a3fbd","#f21d1d","#111111","#a13ac4","#2e8b35"]},"legend":null}
    }
  },
  {
    "data": {"values":[{"k":1}]},
    "mark": {"type":"rect","fill":null,"stroke":"#000","strokeWidth":1.1},
    "encoding": {
      "x": {"datum":-50,"type":"quantitative","scale":{"domain":[-50,600],"range":[150,391],"nice":false,"zero":false},"axis":null},
      "x2": {"datum":600},
      "y": {"datum":60,"type":"quantitative","scale":{"domain":[60,70],"range":[1070.7,893.3],"nice":false,"zero":false},"axis":null},
      "y2": {"datum":70}
    }
  },
  {
    "data": {"name":"fig4bArrow"},
    "mark": {"type":"rule","color":"#000","strokeWidth":1.2},
    "encoding": {
      "x": {"field":"t","type":"quantitative","scale":{"domain":[-50,600],"range":[150,391],"nice":false,"zero":false},"axis":null},
      "y": {"field":"v","type":"quantitative","scale":{"domain":[60,70],"range":[1070.7,893.3],"nice":false,"zero":false},"axis":null},
      "y2": {"field":"v2"}
    }
  },
  {
    "data": {"name":"fig4bArrow"},
    "mark": {"type":"point","shape":"triangle-up","filled":true,"color":"#000","size":35,"opacity":1},
    "encoding": {
      "x": {"field":"t","type":"quantitative","scale":{"domain":[-50,600],"range":[150,391],"nice":false,"zero":false},"axis":null},
      "y": {"field":"top","type":"quantitative","scale":{"domain":[60,70],"range":[1070.7,893.3],"nice":false,"zero":false},"axis":null}
    }
  },
  {
    "data": {"name":"fig4bLabels"},
    "mark": {"type":"text","align":"left","baseline":"middle","fontSize":11.5,"font":"Liberation Serif"},
    "encoding": {
      "x": {"field":"t","type":"quantitative","scale":{"domain":[-50,600],"range":[150,391],"nice":false,"zero":false},"axis":null},
      "y": {"field":"v","type":"quantitative","scale":{"domain":[60,70],"range":[1070.7,893.3],"nice":false,"zero":false},"axis":null},
      "text": {"field":"label"}
    }
  },
  {
    "data": {"values": [{"text":"（b）8~14 μm"}]},
    "mark": {"type":"text","align":"center","baseline":"middle","fontSize":13},
    "encoding": {
      "x": {"datum":0,"type":"quantitative","scale":{"domain":[0,1],"range":[255,256],"nice":false,"zero":false},"axis":null},
      "y": {"datum":0,"type":"quantitative","scale":{"domain":[0,1],"range":[1128,1129],"nice":false,"zero":false},"axis":null},
      "text": {"field":"text"}
    }
  },
  {
    "data": {"values": [{"text":"图4\u00a0\u00a0不同相对湿度下石墨超细粉体烟幕的红外衰减率曲线"}]},
    "mark": {"type":"text","align":"center","baseline":"middle","fontSize":13.7},
    "encoding": {
      "x": {"datum":0,"type":"quantitative","scale":{"domain":[0,1],"range":[268,269],"nice":false,"zero":false},"axis":null},
      "y": {"datum":0,"type":"quantitative","scale":{"domain":[0,1],"range":[1162,1163],"nice":false,"zero":false},"axis":null},
      "text": {"field":"text"}
    }
  },
  {
    "data": {"name":"tRight1"},
    "mark": {"type":"text","align":"left","baseline":"middle","fontSize":15.3},
    "encoding": {
      "x": {"field":"indent","type":"quantitative","scale":{"domain":[0,2],"range":[481,511.6],"nice":false,"zero":false},"axis":null},
      "y": {"field":"line","type":"quantitative","scale":{"domain":[0,5],"range":[147,269],"nice":false,"zero":false},"axis":null},
      "text": {"field":"text"}
    }
  },
  {
    "data": {"name":"fig5"},
    "mark": {"type":"point","filled":true,"size":30,"opacity":1},
    "encoding": {
      "x": {"field":"rh","type":"quantitative","scale":{"domain":[20,75],"range":[541.3,804],"nice":false,"zero":false},
            "axis":{"orient":"bottom","offset":-762.3,"labelPadding":9,"values":[20,30,40,50,60,70],"title":"Relative Humidity/（%）","titlePadding":6}},
      "y": {"field":"rate","type":"quantitative","scale":{"domain":[50,100],"range":[486.7,295],"nice":false,"zero":false},
            "axis":{"orient":"left","offset":-541.3,"labelPadding":10,"values":[50,60,70,80,90,100],"title":"Attenuation rate/（%）","titlePadding":4}},
      "color": {"field":"band","type":"nominal","scale":{"domain":["3~5 μm","8~14 μm"],"range":["#111111","#f02020"]},
                "legend":{"orient":"none","legendX":561,"legendY":302,"title":null,"labelFont":"Liberation Serif","labelFontSize":14,"labelColor":"#111","symbolSize":30,"rowPadding":4}},
      "shape": {"field":"band","type":"nominal","scale":{"domain":["3~5 μm","8~14 μm"],"range":["square","circle"]},
                "legend":{"orient":"none","legendX":561,"legendY":302,"title":null,"labelFont":"Liberation Serif","labelFontSize":14,"labelColor":"#111","symbolSize":30,"rowPadding":4}}
    }
  },
  {
    "data": {"name":"fig5fit"},
    "mark": {"type":"line","color":"#f02020","strokeWidth":1.4},
    "encoding": {
      "x": {"field":"rh","type":"quantitative","scale":{"domain":[20,75],"range":[541.3,804],"nice":false,"zero":false},"axis":null},
      "y": {"field":"rate","type":"quantitative","scale":{"domain":[50,100],"range":[486.7,295],"nice":false,"zero":false},"axis":null},
      "detail": {"field":"band","type":"nominal"}
    }
  },
  {
    "data": {"values":[{"k":1}]},
    "mark": {"type":"rect","fill":null,"stroke":"#000","strokeWidth":1.1},
    "encoding": {
      "x": {"datum":20,"type":"quantitative","scale":{"domain":[20,75],"range":[541.3,804],"nice":false,"zero":false},"axis":null},
      "x2": {"datum":75},
      "y": {"datum":50,"type":"quantitative","scale":{"domain":[50,100],"range":[486.7,295],"nice":false,"zero":false},"axis":null},
      "y2": {"datum":100}
    }
  },
  {
    "data": {"name":"tCap5"},
    "mark": {"type":"text","align":"center","baseline":"middle","fontSize":13.7},
    "encoding": {
      "x": {"datum":0,"type":"quantitative","scale":{"domain":[0,1],"range":[657,658],"nice":false,"zero":false},"axis":null},
      "y": {"field":"line","type":"quantitative","scale":{"domain":[0,1],"range":[546,566],"nice":false,"zero":false},"axis":null},
      "text": {"field":"text"}
    }
  },
  {
    "data": {"name":"tRight2"},
    "mark": {"type":"text","align":"left","baseline":"middle","fontSize":15.3},
    "encoding": {
      "x": {"field":"indent","type":"quantitative","scale":{"domain":[0,2],"range":[481,511.6],"nice":false,"zero":false},"axis":null},
      "y": {"field":"line","type":"quantitative","scale":{"domain":[0,10],"range":[596,836],"nice":false,"zero":false},"axis":null},
      "text": {"field":"text"}
    }
  },
  {
    "data": {"name":"fig6"},
    "mark": {"type":"point","shape":"square","filled":true,"color":"#111","size":30,"opacity":1},
    "encoding": {
      "x": {"field":"rh","type":"quantitative","scale":{"domain":[20,75],"range":[565.4,807],"nice":false,"zero":false},
            "axis":{"orient":"bottom","offset":-195.5,"labelPadding":9,"values":[20,30,40,50,60,70],"labelFlush":true,"title":"Relative Humidity/（%）","titlePadding":6}},
      "y": {"field":"ratio","type":"quantitative","scale":{"domain":[0.95,1.0],"range":[1053.5,876.5],"nice":false,"zero":false},
            "axis":{"orient":"left","offset":-565.4,"labelPadding":10,"values":[0.95,0.96,0.97,0.98,0.99,1.0],"format":".2f","title":"Ratio","titlePadding":10}}
    }
  },
  {
    "data": {"name":"fig6fit"},
    "mark": {"type":"line","color":"#f02020","strokeWidth":1.4},
    "encoding": {
      "x": {"field":"rh","type":"quantitative","scale":{"domain":[20,75],"range":[565.4,807],"nice":false,"zero":false},"axis":null},
      "y": {"field":"ratio","type":"quantitative","scale":{"domain":[0.95,1.0],"range":[1053.5,876.5],"nice":false,"zero":false},"axis":null}
    }
  },
  {
    "data": {"values":[{"k":1}]},
    "mark": {"type":"rect","fill":null,"stroke":"#000","strokeWidth":1.1},
    "encoding": {
      "x": {"datum":20,"type":"quantitative","scale":{"domain":[20,75],"range":[565.4,807],"nice":false,"zero":false},"axis":null},
      "x2": {"datum":75},
      "y": {"datum":0.95,"type":"quantitative","scale":{"domain":[0.95,1.0],"range":[1053.5,876.5],"nice":false,"zero":false},"axis":null},
      "y2": {"datum":1.0}
    }
  },
  {
    "data": {"name":"tCap6"},
    "mark": {"type":"text","align":"center","baseline":"middle","fontSize":13.7},
    "encoding": {
      "x": {"datum":0,"type":"quantitative","scale":{"domain":[0,1],"range":[672,673],"nice":false,"zero":false},"axis":null},
      "y": {"field":"line","type":"quantitative","scale":{"domain":[0,2],"range":[1113,1162],"nice":false,"zero":false},"axis":null},
      "text": {"field":"text"}
    }
  },
  {
    "data": {"name":"tFooter"},
    "mark": {"type":"text","align":"left","baseline":"middle","fontSize":16.9,"font":"Liberation Serif","color":"#a8a8a8"},
    "encoding": {
      "x": {"field":"pos","type":"quantitative","scale":{"domain":[0,1],"range":[14,637],"nice":false,"zero":false},"axis":null},
      "y": {"datum":0,"type":"quantitative","scale":{"domain":[0,1],"range":[1213,1214],"nice":false,"zero":false},"axis":null},
      "text": {"field":"text"}
    }
  }
]
}
